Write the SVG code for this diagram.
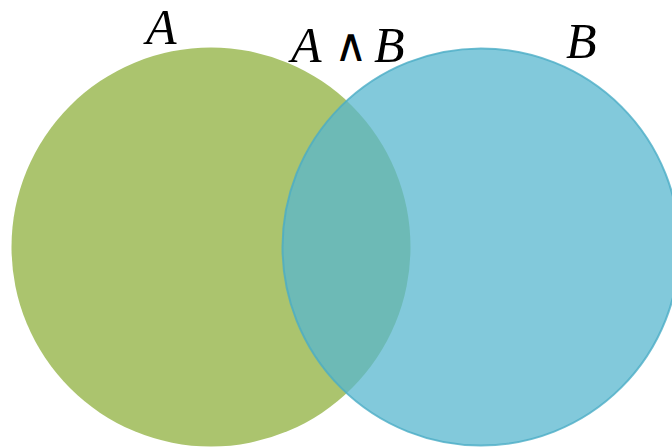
<svg xmlns="http://www.w3.org/2000/svg" width="672" height="447" viewBox="0 0 672 447">
<style>
.lbl{font-family:"Liberation Serif","DejaVu Serif",serif;font-size:50px;fill:#000}
.it{font-style:italic}
.op{font-family:"DejaVu Sans",sans-serif;font-size:46px;font-weight:300}
</style>
<rect width="672" height="447" fill="#fff"/>
<g id="setA"><circle cx="211" cy="247" r="199.5" fill="#abc46e"/></g>
<g id="setB"><circle cx="481" cy="247" r="198.5" fill="#58b7cf" fill-opacity="0.75" stroke="#4bacc6" stroke-opacity="0.8" stroke-width="2"/></g>
<g id="labels">
<text class="lbl it" x="146" y="44">A</text>
<text class="lbl it" x="291" y="62">A</text>
<text class="lbl op" x="334" y="61">∧</text>
<text class="lbl it" x="374" y="62">B</text>
<text class="lbl it" x="566" y="58">B</text>
</g>
<g id="connectors"/>
</svg>
